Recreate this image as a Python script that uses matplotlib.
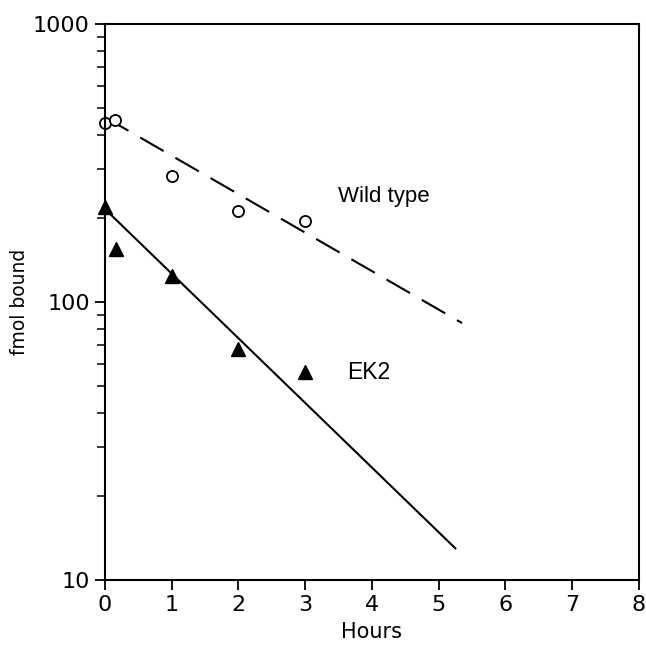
import matplotlib
matplotlib.use("Agg")
import matplotlib.pyplot as plt
from matplotlib.ticker import LogLocator, NullFormatter, FixedLocator

# measured points
wt_hours = [0, 0.15, 1, 2, 3]
wt_bound = [440, 452, 284, 212, 196]
ek2_hours = [0, 0.17, 1, 2, 3]
ek2_bound = [220, 155, 124, 68, 56]

# fitted decay lines (end points)
wt_fit_hours = [0, 5.35]
wt_fit_bound = [462, 84]
ek2_fit_hours = [0, 5.25]
ek2_fit_bound = [216, 13]

x_ticks = [0, 1, 2, 3, 4, 5, 6, 7, 8]
y_ticks = [10, 100, 1000]

plt.rcParams['font.family'] = ['Liberation Sans', 'DejaVu Sans']

fig = plt.figure(figsize=(6.46, 6.49), dpi=100)
ax = fig.add_axes([0.1625, 0.1063, 0.8265, 0.8567])

ax.plot(wt_fit_hours, wt_fit_bound, color='black', lw=1.5, dashes=(13, 6.5))
ax.plot(ek2_fit_hours, ek2_fit_bound, color='black', lw=1.5)
ax.plot(wt_hours, wt_bound, 'o', ms=8, mfc='white', mec='black', mew=1.3, clip_on=False)
ax.plot(ek2_hours, ek2_bound, '^', ms=9.5, color='black', clip_on=False)

ax.text(3.49, 239, 'Wild type', fontsize=16, va='center', ha='left')
ax.text(3.63, 56, 'EK2', fontsize=16.5, va='center', ha='left')

ax.set_yscale('log')
ax.set_xlim(0, 8)
ax.set_ylim(10, 1000)
ax.xaxis.set_major_locator(FixedLocator(x_ticks))
ax.yaxis.set_major_locator(FixedLocator(y_ticks))
ax.set_yticklabels([str(v) for v in y_ticks])
ax.yaxis.set_minor_locator(LogLocator(base=10, subs=range(2, 10)))
ax.yaxis.set_minor_formatter(NullFormatter())

ax.tick_params(which='major', direction='out', length=7, width=1.3, labelsize=16)
ax.tick_params(axis='x', pad=4)
ax.tick_params(axis='y', pad=4)
ax.tick_params(which='minor', direction='out', length=6, width=1.1)
for lab in ax.get_xticklabels() + ax.get_yticklabels():
    lab.set_family('DejaVu Sans')
for s in ax.spines.values():
    s.set_linewidth(1.5)

ax.set_xlabel('Hours', fontsize=15, labelpad=5, family='DejaVu Sans')
ax.set_ylabel('fmol bound', fontsize=13.5, labelpad=3, family='DejaVu Sans')

fig.savefig('out.png', dpi=100)
